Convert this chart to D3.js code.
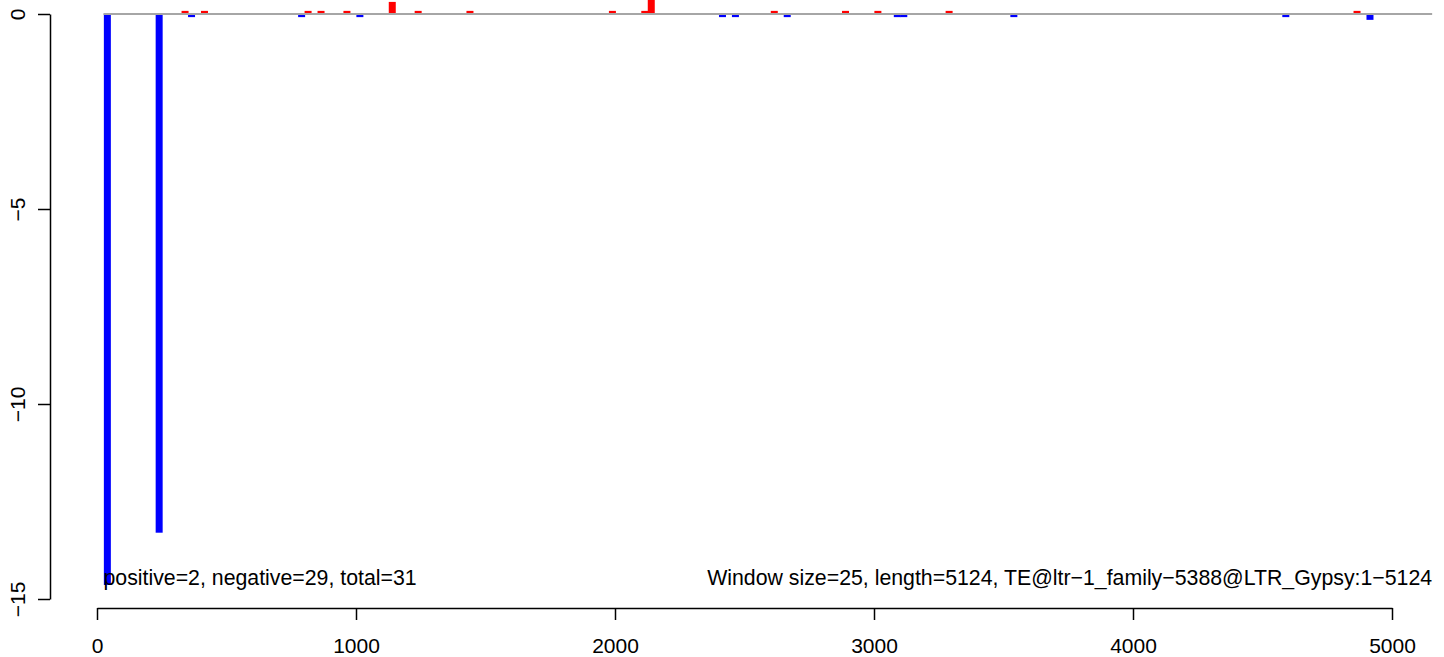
<!DOCTYPE html>
<html>
<head>
<meta charset="utf-8">
<script src="https://cdn.jsdelivr.net/npm/d3@7"></script>
<style>
  html, body { margin: 0; padding: 0; background: #ffffff; }
  svg { display: block; }
  text { font-family: "Liberation Sans", Arial, Helvetica, sans-serif; fill: #000; }
</style>
</head>
<body>
<svg id="chart" width="1444" height="657"></svg>
<script>
// ---- data ----
const positions = [40, 240, 340, 365, 415, 790, 815, 865, 965, 1015, 1140, 1240, 1440, 1990, 2115, 2140,
                   2415, 2465, 2615, 2665, 2890, 3015, 3090, 3115, 3290, 3540, 4590, 4865, 4915];
const values = [-14.64, -13.3, 0.08, -0.08, 0.08, -0.08, 0.08, 0.08, 0.08, -0.08, 0.31, 0.08, 0.08, 0.08, 0.08, 0.45,
                -0.08, -0.08, 0.08, -0.08, 0.08, 0.08, -0.08, -0.08, 0.08, -0.08, -0.08, 0.08, -0.15];
const xTicks = [0, 1000, 2000, 3000, 4000, 5000];
const yTicks = [0, -5, -10, -15];
const baselineRange = [25, 5155];
const leftLabel = "positive=2, negative=29, total=31";
const rightLabel = "Window size=25, length=5124, TE@ltr\u22121_family\u22125388@LTR_Gypsy:1\u22125124";

// ---- scales ----
const x = d3.scaleLinear().domain([0, 5000]).range([97, 1392]);
const y = d3.scaleLinear().domain([-15, 0]).range([599, 14]);

const svg = d3.select("#chart");
const barW = 7;

// bars
svg.append("g").selectAll("rect")
  .data(positions.map((p, i) => ({ p, v: values[i] })))
  .join("rect")
  .attr("x", d => x(d.p) - barW / 2)
  .attr("width", barW)
  .attr("y", d => Math.min(y(0), y(d.v)))
  .attr("height", d => Math.abs(y(d.v) - y(0)))
  .attr("fill", d => d.v >= 0 ? "#ff0000" : "#0000ff");

// zero line
svg.append("line")
  .attr("x1", x(baselineRange[0])).attr("x2", x(baselineRange[1]))
  .attr("y1", y(0)).attr("y2", y(0))
  .attr("stroke", "#a6a6a6").attr("stroke-width", 2);

// x axis
const xAxis = svg.append("g")
  .attr("transform", "translate(0,608)")
  .call(d3.axisBottom(x).tickValues(xTicks).tickSize(12).tickSizeOuter(0).tickPadding(18).tickFormat(d3.format("d")));
xAxis.select(".domain").attr("stroke", "#000").attr("stroke-width", 1.5);
xAxis.selectAll(".tick line").attr("stroke", "#000").attr("stroke-width", 1.5);
xAxis.selectAll(".tick text").attr("font-size", 21).attr("font-family", "Liberation Sans, Arial, sans-serif").attr("fill", "#000");

// y axis
const yAxis = svg.append("g")
  .attr("transform", "translate(50,0)")
  .call(d3.axisLeft(y).tickValues(yTicks).tickSize(12).tickSizeOuter(0).tickFormat(d => d < 0 ? "\u2212" + Math.abs(d) : d));
yAxis.select(".domain").attr("stroke", "#000").attr("stroke-width", 1.5);
yAxis.selectAll(".tick line").attr("stroke", "#000").attr("stroke-width", 1.5);
yAxis.selectAll(".tick text")
  .attr("font-size", 21).attr("font-family", "Liberation Sans, Arial, sans-serif").attr("fill", "#000")
  .attr("x", null).attr("dy", null)
  .attr("text-anchor", "middle")
  .attr("transform", "translate(-25,0) rotate(-90)");

// annotations
svg.append("text")
  .attr("x", x(baselineRange[0])).attr("y", 585)
  .attr("font-size", 21.3).attr("text-anchor", "start")
  .text(leftLabel);
svg.append("text")
  .attr("x", x(baselineRange[1])).attr("y", 585)
  .attr("font-size", 21.3).attr("text-anchor", "end")
  .text(rightLabel);
</script>
</body>
</html>
